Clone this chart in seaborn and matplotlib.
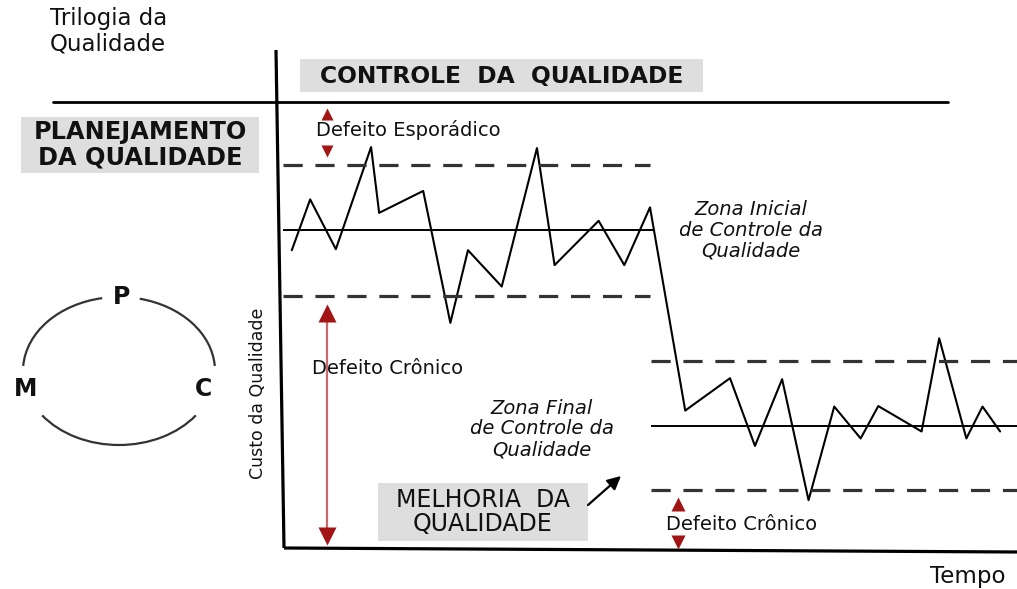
import matplotlib
matplotlib.use("Agg")
import matplotlib.pyplot as plt
import seaborn as sns
import pandas as pd
from matplotlib.patches import Rectangle, Arc

# ---------------- data ----------------
tempo = [1.2, 3.7, 7.2, 12.0, 13.1, 19.1, 22.8, 25.2, 29.8, 34.6, 37.0, 43.0, 46.5, 50.0,
         54.8, 60.9, 64.3, 68.0, 71.6, 75.1, 78.7, 81.1, 87.0, 89.4, 93.1, 95.3, 97.7]
custo = [59.8, 70.0, 60.0, 80.5, 67.3, 71.7, 45.2, 59.8, 52.5, 80.3, 56.8, 65.7, 56.8, 68.4,
         27.6, 34.1, 20.5, 33.9, 9.6, 28.4, 22.0, 28.5, 23.4, 42.1, 22.0, 28.4, 23.4]

zonas = ["Zona Inicial", "Zona Final"]
zona_inicio = [0.0, 50.1]
zona_fim = [50.6, 100.0]
zona_media = [63.9, 24.5]
zona_lsc = [76.9, 37.6]
zona_lic = [50.6, 11.6]

df = pd.DataFrame({"Tempo": tempo, "Custo da Qualidade": custo})

# ---------------- figure ----------------
sns.set_theme(style="white")
plt.rcParams["font.family"] = ["DejaVu Sans"]

W, H = 1017, 589
fig = plt.figure(figsize=(W / 100, H / 100), dpi=100)
fig.patch.set_facecolor("white")

# overlay (annotations, frame) in pixel-like coordinates
ov = fig.add_axes([0, 0, 1, 1])
ov.set_xlim(0, W)
ov.set_ylim(H, 0)
ov.axis("off")

# main data axes
ax = fig.add_axes([283 / W, (H - 548) / H, (W - 283) / W, (548 - 50) / H])
ax.set_xlim(0, 100)
ax.set_ylim(0, 100)
ax.axis("off")
ax.patch.set_alpha(0)

sns.lineplot(data=df, x="Tempo", y="Custo da Qualidade", ax=ax, color="black",
             lw=1.5, estimator=None, sort=False)
ax.hlines(zona_media, zona_inicio, zona_fim, color="black", lw=1.4)
ax.hlines(zona_lsc, zona_inicio, [50.0, 100.0], color="#333333", lw=2.3,
          linestyles=[(0, (6, 4))])
ax.hlines(zona_lic, zona_inicio, [50.0, 100.0], color="#333333", lw=2.3,
          linestyles=[(0, (6, 4))])
ax.set_xlabel("")
ax.set_ylabel("")

# frame lines (hand-drawn style axes)
ov.plot([276, 284], [50, 548], color="black", lw=2.3, solid_capstyle="butt")
ov.plot([284, 1017], [548, 552], color="black", lw=2.3, solid_capstyle="butt")
ov.plot([53, 948], [101.5, 101.5], color="black", lw=2.0)

# gray boxes
box_c = "#dedede"
ov.add_patch(Rectangle((300, 59), 403, 33, fc=box_c, ec="none", zorder=1))
ov.add_patch(Rectangle((21, 117), 238, 56, fc=box_c, ec="none", zorder=1))
ov.add_patch(Rectangle((378, 483), 210, 58, fc=box_c, ec="none", zorder=1))

txt = "#111111"
ov.text(50, 7, "Trilogia da\nQualidade", fontsize=16.5, va="top", ha="left",
        color=txt, linespacing=1.15)
ov.text(502, 76, "CONTROLE  DA  QUALIDADE", fontsize=16.8, fontweight="bold",
        ha="center", va="center", color=txt, zorder=2)
ov.text(140, 145, "PLANEJAMENTO\nDA QUALIDADE", fontsize=17.3, fontweight="bold",
        ha="center", va="center", color=txt, linespacing=1.08, zorder=2)
ov.text(483, 512, "MELHORIA  DA\nQUALIDADE", fontsize=17,
        ha="center", va="center", color=txt, linespacing=1.0, zorder=2)

ov.text(751, 230, "Zona Inicial\nde Controle da\nQualidade", fontsize=14,
        style="italic", ha="center", va="center", color=txt, linespacing=1.12)
ov.text(542, 429, "Zona Final\nde Controle da\nQualidade", fontsize=14,
        style="italic", ha="center", va="center", color=txt, linespacing=1.12)

ov.text(316, 130, "Defeito Esporádico", fontsize=14, ha="left", va="center", color=txt)
ov.text(312, 368, "Defeito Crônico", fontsize=14, ha="left", va="center", color=txt)
ov.text(666, 524, "Defeito Crônico", fontsize=14, ha="left", va="center", color=txt)

ov.text(258, 393, "Custo da Qualidade", fontsize=12.5, rotation=90,
        ha="center", va="center", color=txt)
ov.text(968, 576, "Tempo", fontsize=16.5, ha="center", va="center", color=txt)

# red arrows / markers
dark_red = "#a31515"
ov.plot([327, 327], [318, 530], color="#c86a6a", lw=1.6)
ov.plot([327], [313], marker="^", ms=13, color=dark_red, mec="none")
ov.plot([327], [536], marker="v", ms=13, color=dark_red, mec="none")
ov.plot([327], [114], marker="^", ms=9, color=dark_red, mec="none")
ov.plot([327], [151], marker="v", ms=9, color=dark_red, mec="none")
ov.plot([678], [504], marker="^", ms=10, color=dark_red, mec="none")
ov.plot([678], [542], marker="v", ms=10, color=dark_red, mec="none")

# melhoria arrow
ov.annotate("", xy=(621, 476), xytext=(588, 505),
            arrowprops=dict(arrowstyle="-|>", color="black", lw=1.6,
                            mutation_scale=20, shrinkA=0, shrinkB=0))

# PDCA cycle
cx, cy, aw, ah = 119, 371, 192, 148
for t1, t2 in [(-74, -3), (-177, -103), (30, 150)]:
    ov.add_patch(Arc((cx, cy), aw, ah, theta1=t1, theta2=t2,
                     color="#333333", lw=1.6))
ov.text(122, 297, "P", fontsize=17, fontweight="bold", ha="center", va="center", color=txt)
ov.text(26, 389, "M", fontsize=17, fontweight="bold", ha="center", va="center", color=txt)
ov.text(204, 389, "C", fontsize=17, fontweight="bold", ha="center", va="center", color=txt)

fig.savefig("out.png", dpi=100, facecolor="white")
